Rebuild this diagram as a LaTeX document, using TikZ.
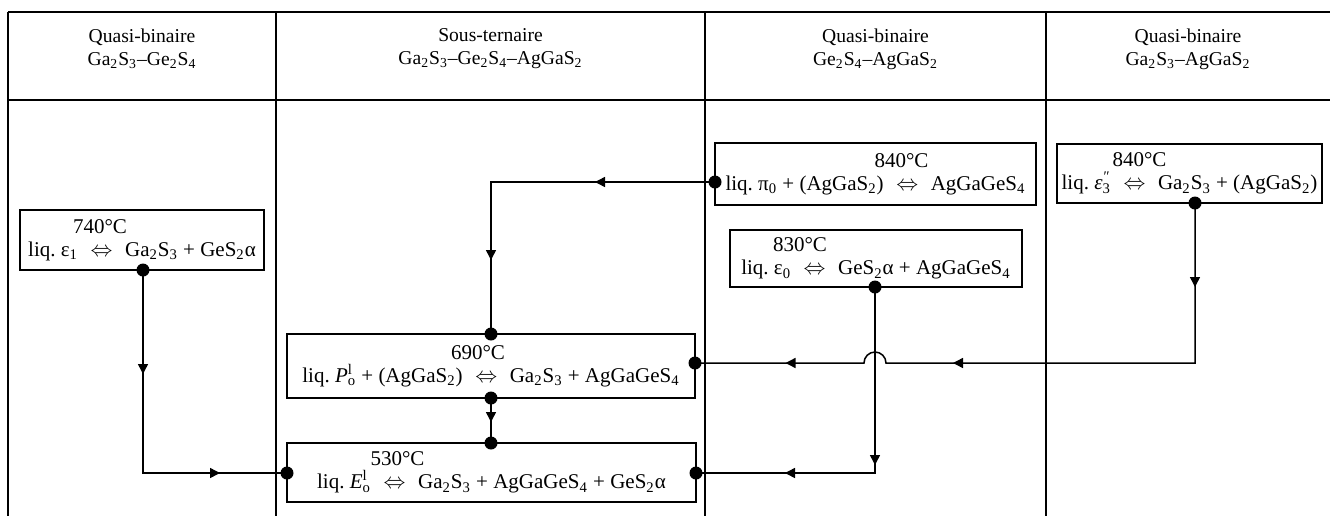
\documentclass[tikz,border=0pt]{standalone}
\usepackage{fontspec}
\setmainfont{Liberation Serif}
\usetikzlibrary{arrows.meta,decorations.markings}
\newcommand\tshift[2]{\makebox[0pt]{\hspace*{#1}#2\hspace*{-#1}}}
\newcommand\arr{\hspace{0.6em}$\Leftrightarrow$\hspace{0.6em}}
\newcommand\sub[1]{\textsubscript{#1}}
\newcommand\supsub[2]{\rlap{\textsuperscript{#1}}\textsubscript{#2}}
\begin{document}
\begin{tikzpicture}[x=0.5pt,y=-0.5pt,
  tri/.tip={Triangle[length=5pt,width=5pt]},
  tbl/.style={line width=1.2pt},
  rbox/.style={draw, line width=0.75pt, inner sep=0pt, align=center,
    font=\fontsize{10.5}{11.5}\selectfont},
  hdr/.style={align=center, inner sep=0pt, font=\fontsize{9.8}{11.5}\selectfont},
  conn/.style={line width=0.75pt},
  dot/.style={circle, fill=black, inner sep=0pt, minimum size=6.5pt},
  midarrow/.style={postaction={decorate,decoration={markings,
    mark=at position #1 with {\arrow{tri}}}}}]
\useasboundingbox (0,0) rectangle (1330,516);
% table
\draw[tbl] (8,12) -- (1330,12);
\draw[tbl] (8,100) -- (1330,100);
\foreach \x in {8,276,705,1046} \draw[tbl] (\x,12) -- (\x,516);
% headers
\node[hdr] (h1) at (142,49) {Quasi-binaire\\Ga\sub2S\sub3--Ge\sub2S\sub4};
\node[hdr] (h2) at (490.5,49) {Sous-ternaire\\Ga\sub2S\sub3--Ge\sub2S\sub4--AgGaS\sub2};
\node[hdr] (h3) at (875.5,49) {Quasi-binaire\\Ge\sub2S\sub4--AgGaS\sub2};
\node[hdr] (h4) at (1188,49) {Quasi-binaire\\Ga\sub2S\sub3--AgGaS\sub2};
% boxes
\node[rbox, minimum width=122pt, minimum height=30pt] (e1) at (142,240)
  {\tshift{-21pt}{740°C}\\liq.\ ε\sub1\arr Ga\sub2S\sub3 + GeS\sub2α};
\node[rbox, minimum width=160.5pt, minimum height=31pt] (pi) at (875.5,174)
  {\tshift{13pt}{840°C}\\liq.\ π\sub0 + (AgGaS\sub2)\arr AgGaGeS\sub4};
\node[rbox, minimum width=132.5pt, minimum height=29.5pt] (e3) at (1189.5,173.5)
  {\tshift{-25pt}{840°C}\\liq.\ \textit{ε}\supsub{\textit{″}}{3}\arr Ga\sub2S\sub3 + (AgGaS\sub2)};
\node[rbox, minimum width=146pt, minimum height=28.5pt] (e0) at (876,258.5)
  {\tshift{-38pt}{830°C}\\liq.\ ε\sub0\arr GeS\sub2α + AgGaGeS\sub4};
\node[rbox, minimum width=204pt, minimum height=32pt] (P) at (491,366)
  {\tshift{-6.5pt}{690°C}\\liq.\ \textit{P}\supsub{l}{o} + (AgGaS\sub2)\arr Ga\sub2S\sub3 + AgGaGeS\sub4};
\node[rbox, minimum width=204.5pt, minimum height=29.5pt] (E) at (491.5,472.5)
  {\tshift{-47pt}{530°C}\\liq.\ \textit{E}\supsub{l}{o}\arr Ga\sub2S\sub3 + AgGaGeS\sub4 + GeS\sub2α};
% dots
\node[dot] (d1) at (143,270) {};
\node[dot] (dpi) at (715,182) {};
\node[dot] (de3) at (1195,203) {};
\node[dot] (de0) at (875,287) {};
\node[dot] (dPt) at (491,334) {};
\node[dot] (dPb) at (491,398) {};
\node[dot] (dPr) at (695,363) {};
\node[dot] (dEt) at (491,443) {};
\node[dot] (dEl) at (287,473) {};
\node[dot] (dEr) at (696,473) {};
% connectors
\draw[conn, midarrow=52pt, midarrow=140pt] (d1.center) |- (dEl.center);
\draw[conn, midarrow=60pt, midarrow=151pt] (dpi.center) -| (dPt.center);
\coordinate (hop) at (875,363);
\draw[conn, midarrow=42pt, midarrow=201pt, midarrow=291pt]
  (de3.center) |- ([xshift=5.5pt]hop) arc[start angle=0, end angle=180, radius=5.5pt] -- (dPr.center);
\draw[conn, midarrow=89pt, midarrow=138pt] (de0.center) |- (dEr.center);
\draw[conn, midarrow=12pt] (dPb.center) -- (dEt.center);
\end{tikzpicture}
\end{document}
